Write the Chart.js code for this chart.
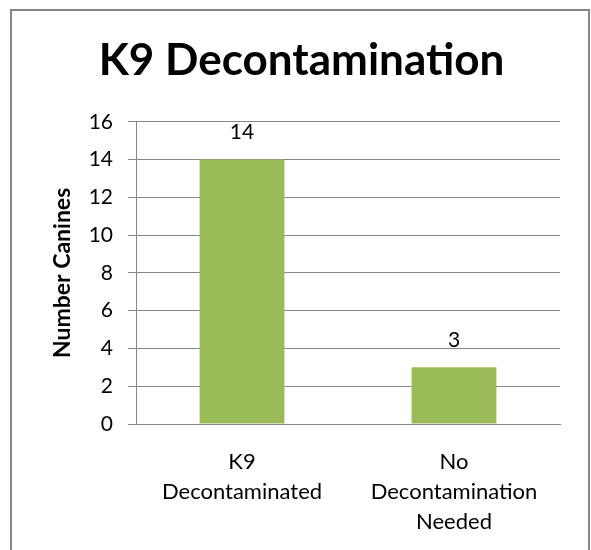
<!DOCTYPE html>
<html>
<head>
<meta charset="utf-8">
<script src="https://cdn.jsdelivr.net/npm/chart.js@4/dist/chart.umd.min.js"></script>
<style>
html,body{margin:0;padding:0;background:#fff;}
#wrap{position:relative;width:591px;height:550px;}
</style>
</head>
<body>
<div id="wrap"><canvas id="c" width="591" height="550"></canvas></div>
<script>
const categories = [["K9", "Decontaminated"], ["No", "Decontamination", "Needed"]];
const values = [14, 3];
const yTicks = [0, 2, 4, 6, 8, 10, 12, 14, 16];
const titleText = "K9 Decontamination";
const yTitle = "Number Canines";

const framePlugin = {
  id: 'frame',
  beforeDraw(chart) {
    const ctx = chart.ctx;
    ctx.save();
    ctx.fillStyle = '#fff';
    ctx.fillRect(0, 0, chart.width, chart.height);
    ctx.strokeStyle = '#878787';
    ctx.lineWidth = 2;
    ctx.strokeRect(11, 10, 578, 600);
    ctx.restore();
  }
};

const labelPlugin = {
  id: 'barLabels',
  afterDatasetsDraw(chart) {
    const ctx = chart.ctx;
    const meta = chart.getDatasetMeta(0);
    ctx.save();
    ctx.font = '21px Lato';
    ctx.fillStyle = '#000';
    ctx.textAlign = 'center';
    ctx.textBaseline = 'middle';
    meta.data.forEach((bar, i) => {
      ctx.fillText(String(values[i]), bar.x, bar.y - 27);
    });
    ctx.restore();
  }
};

new Chart(document.getElementById('c'), {
  type: 'bar',
  data: {
    labels: categories,
    datasets: [{
      data: values,
      backgroundColor: '#9BBB59',
      borderWidth: 0,
      barPercentage: 0.4,
      categoryPercentage: 1.0
    }]
  },
  options: {
    responsive: false,
    animation: false,
    layout: { padding: { left: 43, right: 31, top: 0, bottom: 0 } },
    plugins: {
      legend: { display: false },
      tooltip: { enabled: false },
      title: {
        display: true,
        text: titleText,
        color: '#000',
        font: { family: 'Lato', size: 44, weight: 'bold', lineHeight: 1.2 },
        padding: { top: 34, bottom: 35 }
      }
    },
    scales: {
      x: {
        afterFit(scale) { scale.height = 126; },
        grid: { display: false, drawTicks: false },
        border: { display: true, color: '#878787', width: 1 },
        ticks: {
          color: '#000',
          font: { family: 'Lato', size: 22, lineHeight: 1.36 },
          padding: 23,
          maxRotation: 0,
          autoSkip: false
        }
      },
      y: {
        min: 0,
        max: 16,
        afterBuildTicks(scale) {
          scale.ticks = yTicks.map(v => ({ value: v }));
        },
        afterFit(scale) { scale.width = 93; },
        grid: { color: '#878787', lineWidth: 1, drawTicks: true, tickLength: 8, tickColor: '#878787' },
        border: { display: true, color: '#878787', width: 1 },
        ticks: {
          color: '#000',
          font: { family: 'Lato', size: 21 },
          padding: 15,
          stepSize: 2
        },
        title: {
          display: true,
          text: yTitle,
          color: '#000',
          font: { family: 'Lato', size: 23, weight: 'bold', lineHeight: 1.2 },
          padding: { top: 6, bottom: 0 }
        }
      }
    }
  },
  plugins: [framePlugin, labelPlugin]
});
</script>
</body>
</html>
